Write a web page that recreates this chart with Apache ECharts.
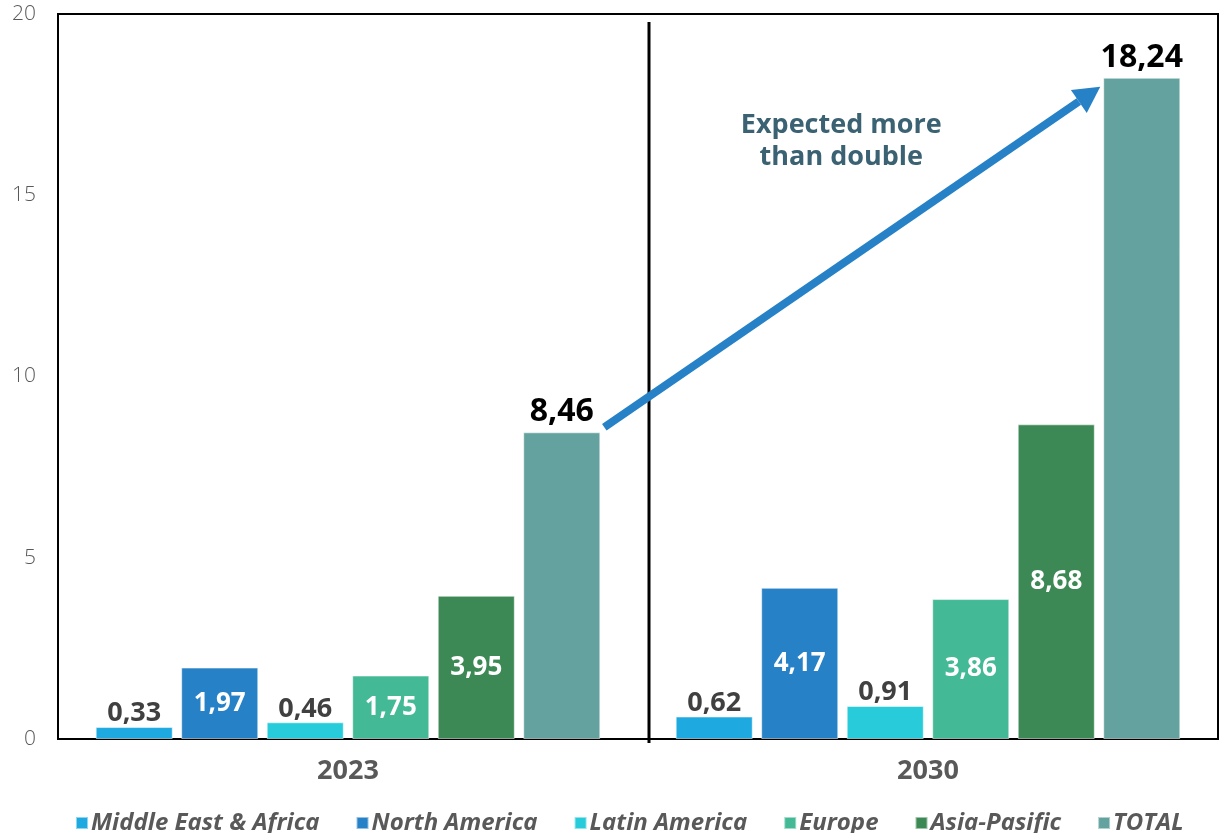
<!DOCTYPE html>
<html>
<head>
<meta charset="utf-8">
<script src="https://cdn.jsdelivr.net/npm/echarts@6/dist/echarts.min.js"></script>
<style>
html,body{margin:0;padding:0;background:#fff;}
#c{width:1220px;height:833px;}
</style>
</head>
<body>
<div id="c"></div>
<script>
const categories = ['2023', '2030'];
const seriesNames = ['Middle East & Africa', 'North America', 'Latin America', 'Europe', 'Asia-Pasific', 'TOTAL'];
const mea = [0.33, 0.62];
const northAmerica = [1.97, 4.17];
const latinAmerica = [0.46, 0.91];
const europe = [1.75, 3.86];
const asiaPacific = [3.95, 8.68];
const total = [8.46, 18.24];
const yTicks = [0, 5, 10, 15, 20];
const annotation = 'Expected more\nthan double';

const colors = ['#1fa9e1', '#2781c6', '#27cbd9', '#43b996', '#3d8955', '#63a29e'];
const values = [mea, northAmerica, latinAmerica, europe, asiaPacific, total];
const FONT = '"Open Sans", sans-serif';
const fmt = v => v.toFixed(2).replace('.', ',');

const chart = echarts.init(document.getElementById('c'), null, {renderer: 'canvas'});

const series = values.map((arr, si) => ({
  name: seriesNames[si],
  type: 'bar',
  barGap: '11%',
  barCategoryGap: '13%',
  itemStyle: {color: colors[si], borderColor: 'rgba(255,255,255,0.5)', borderWidth: 1},
  data: arr.map(v => {
    const isTotal = si === 5;
    const small = v < 1;
    let label;
    if (isTotal) {
      label = {show: true, position: 'top', distance: 4, color: '#000', fontSize: 32, fontWeight: 'bold', fontFamily: FONT, formatter: p => fmt(p.value)};
    } else if (small) {
      label = {show: true, position: 'top', distance: 0, color: '#404040', fontSize: 27, fontWeight: 'bold', fontFamily: FONT, formatter: p => fmt(p.value)};
    } else {
      label = {show: true, position: 'inside', color: '#fff', fontSize: 26, fontWeight: 'bold', fontFamily: FONT, formatter: p => fmt(p.value)};
    }
    return {value: v, label};
  })
}));

chart.setOption({
  animation: false,
  backgroundColor: '#fff',
  grid: {left: 58, right: 2, top: 14, bottom: 94, show: true, borderColor: '#000', borderWidth: 2, backgroundColor: 'transparent'},
  legend: {
    top: 806, left: 70,
    itemWidth: 12, itemHeight: 12, itemGap: 36,
    icon: 'rect',
    textStyle: {color: '#595959', fontSize: 24, fontWeight: 'bold', fontStyle: 'italic', fontFamily: FONT, padding: [0, 0, 0, -2]},
    data: seriesNames
  },
  xAxis: {
    type: 'category', data: categories,
    axisLine: {lineStyle: {color: '#000', width: 2}},
    axisTick: {show: false},
    axisLabel: {color: '#595959', fontSize: 27, fontWeight: 'bold', fontFamily: FONT, margin: 19}
  },
  yAxis: {
    type: 'value', min: yTicks[0], max: yTicks[yTicks.length - 1], interval: yTicks[1] - yTicks[0],
    splitLine: {show: false},
    axisLine: {show: true, lineStyle: {color: '#000', width: 2}},
    axisTick: {show: false},
    axisLabel: {color: '#595959', fontSize: 21, fontFamily: FONT, fontWeight: 300, margin: 22, align: 'right'}
  },
  series
});

// Derived decorations: divider and arrow from bar layouts
const data5 = chart.getModel().getSeriesByIndex(5).getData();
const l0 = data5.getItemLayout(0);
const l1 = data5.getItemLayout(1);
const data0 = chart.getModel().getSeriesByIndex(0).getData();
const m1 = data0.getItemLayout(1);
const gridRect = chart.getModel().getComponent('grid').coordinateSystem.getRect();

const r0 = Math.max(l0.x, l0.x + l0.width);
const top0 = Math.min(l0.y, l0.y + l0.height);
const left1 = Math.min(l1.x, l1.x + l1.width);
const top1 = Math.min(l1.y, l1.y + l1.height);
const divX = (r0 + Math.min(m1.x, m1.x + m1.width)) / 2 + 11;

const sx = r0 + 4, sy = top0 - 5;
const ex = left1 - 3, ey = top1 + 9;
const ang = Math.atan2(ey - sy, ex - sx);
const headLen = 26, headW = 14;
const bx = ex - headLen * Math.cos(ang), by = ey - headLen * Math.sin(ang);
const px = -Math.sin(ang), py = Math.cos(ang);

chart.setOption({
  graphic: [
    {type: 'line', shape: {x1: divX, y1: gridRect.y + 8, x2: divX, y2: gridRect.y + gridRect.height + 4}, style: {stroke: '#000', lineWidth: 3}, z: 10},
    {type: 'line', shape: {x1: sx, y1: sy, x2: bx, y2: by}, style: {stroke: '#2781c6', lineWidth: 8}, z: 10},
    {type: 'polygon', shape: {points: [[ex, ey], [bx + px * headW, by + py * headW], [bx - px * headW, by - py * headW]]}, style: {fill: '#2781c6'}, z: 10},
    {type: 'text', x: (sx + ex) / 2 - 11, y: (sy + ey) / 2 - 116, style: {text: annotation, fill: '#3b6272', font: 'bold 27px "Open Sans", sans-serif', align: 'center', verticalAlign: 'middle', lineHeight: 32}, z: 10}
  ]
});
</script>
</body>
</html>
